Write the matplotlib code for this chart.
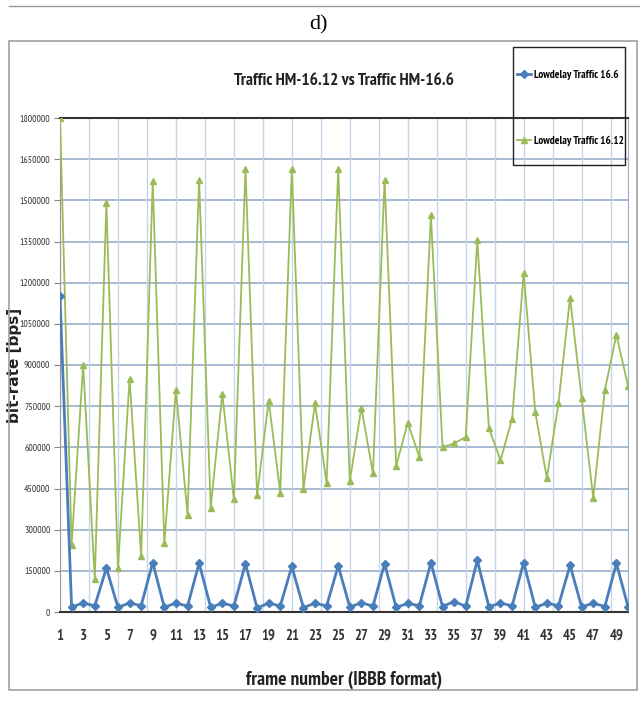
import matplotlib.pyplot as plt
from matplotlib.lines import Line2D
from matplotlib import font_manager as fm
import numpy as np

# ------------------------------------------------------------------
# Data
# ------------------------------------------------------------------
frames = list(range(1, 51))

traffic_166 = [1150000, 18000, 33000, 22000, 160000,
               17000, 33000, 23000, 180000,
               17000, 33000, 21000, 178000,
               17000, 32000, 22000, 176000,
               15000, 32000, 22000, 166000,
               16000, 32000, 22000, 168000,
               18000, 34000, 21000, 176000,
               17000, 31000, 23000, 180000,
               20000, 38000, 21000, 188000,
               19000, 33000, 22000, 180000,
               17000, 32000, 23000, 170000,
               19000, 32000, 20000, 177000,
               20000]

traffic_1612 = [1800000, 245000, 900000, 120000, 1490000,
                160000, 850000, 205000, 1570000,
                250000, 810000, 355000, 1575000,
                380000, 795000, 410000, 1615000,
                425000, 770000, 435000, 1615000,
                450000, 760000, 470000, 1615000,
                477000, 745000, 505000, 1575000,
                532000, 690000, 565000, 1445000,
                600000, 615000, 637000, 1355000,
                670000, 553000, 703000, 1235000,
                728000, 488000, 760000, 1145000,
                780000, 415000, 808000, 1010000,
                825000]

y_ticks = list(range(0, 1800001, 150000))
x_ticks = list(range(1, 50, 2))

BLUE = '#4a7ebb'
GREEN = '#9bbb59'

# pick an Arial-Narrow-like face that also has a bold weight
def has_bold(name):
    for f in fm.fontManager.ttflist:
        if f.name == name and str(f.weight) in ('700', 'bold', '800'):
            return True
    return False

narrow = 'DejaVu Sans'
for cand in ['Arial Narrow', 'Liberation Sans Narrow', 'Archivo Narrow',
             'PT Sans Narrow', 'Roboto Condensed', 'Pragati Narrow',
             'Fira Sans Condensed', 'IBM Plex Sans Condensed',
             'Encode Sans Condensed', 'Barlow Condensed', 'Asap Condensed',
             'Sofia Sans Condensed', 'Open Sans Condensed']:
    if has_bold(cand):
        narrow = cand
        break
NARROW = [narrow, 'DejaVu Sans']

# ------------------------------------------------------------------
# Figure
# ------------------------------------------------------------------
fig = plt.figure(figsize=(6.4, 7.13), dpi=100)

def fx(px):
    return px / 640

def fy(py):
    return 1 - py / 713

# table cell borders and caption
fig.add_artist(Line2D([fx(9), 1], [fy(6), fy(6)], color='#999999', lw=1))
fig.add_artist(plt.Rectangle((fx(9), fy(690)), fx(628), (690 - 41) / 713,
                             fill=False, edgecolor='#a0a0a0', lw=1.2))
fig.text(fx(318), fy(25), 'd)', family='Liberation Serif', fontsize=16,
         ha='center', va='center')

ax = fig.add_axes([fx(60), fy(612), (628 - 60) / 640, (612 - 118) / 713])

l1, = ax.plot(frames, traffic_166, color=BLUE, lw=2.0, marker='D', ms=4,
              label='Lowdelay Traffic 16.6', zorder=4)
l2, = ax.plot(frames, traffic_1612, color=GREEN, lw=1.3, marker='^', ms=5,
              label='Lowdelay Traffic 16.12', zorder=3)

ax.set_xlim(1, 50)
ax.set_ylim(0, 1800000)

ax.set_yticks(y_ticks)
ax.set_yticklabels([str(v) for v in y_ticks], family=NARROW, fontsize=7,
                   color='#333333')
ax.set_xticks(x_ticks)
ax.set_xticklabels([str(v) for v in x_ticks], family=NARROW, fontsize=10.5,
                   fontweight='bold', color='#333333')
ax.tick_params(axis='y', length=4, color='#888888', pad=3)
ax.tick_params(axis='x', length=0, pad=12)

# gridlines
for yv in y_ticks[1:-1]:
    ax.axhline(yv, color='#8fa6c4', lw=1.1, zorder=1)
for xv in np.arange(1, 50, 2.5):
    ax.axvline(xv, color='#c5d4e6', lw=1.0, zorder=1)

for s in ['top', 'bottom']:
    ax.spines[s].set_color('#333333')
    ax.spines[s].set_linewidth(1.5)
ax.spines['left'].set_color('#999999')
ax.spines['right'].set_color('#9aaec8')

ax.set_title('Traffic HM-16.12 vs Traffic HM-16.6', family=NARROW,
             fontweight='bold', fontsize=12.5, color='#222222', pad=24)
ax.set_xlabel('frame number (IBBB format)', family=NARROW, fontweight='bold',
              fontsize=14, color='#222222', labelpad=20)
ax.set_ylabel('bit-rate [bps]', family='DejaVu Sans', fontweight='bold',
              fontsize=11, color='#222222')
ax.yaxis.set_label_coords(-(60 - 22) / 568, 0.5)

# legend box drawn separately, entries placed inside it
fig.add_artist(plt.Rectangle((fx(513), fy(165)), (625 - 513) / 640, (165 - 47) / 713,
                             fill=False, edgecolor='#222222', lw=1.0))
leg = ax.legend(handles=[l1, l2], loc='upper left',
                bbox_to_anchor=(fx(517), fy(70)), bbox_transform=fig.transFigure,
                prop={'family': NARROW, 'size': 8, 'weight': 'bold'},
                labelspacing=5.0, handlelength=1.3, handletextpad=0.2,
                borderpad=0, borderaxespad=0, frameon=False)

fig.savefig('out.png', dpi=100)
